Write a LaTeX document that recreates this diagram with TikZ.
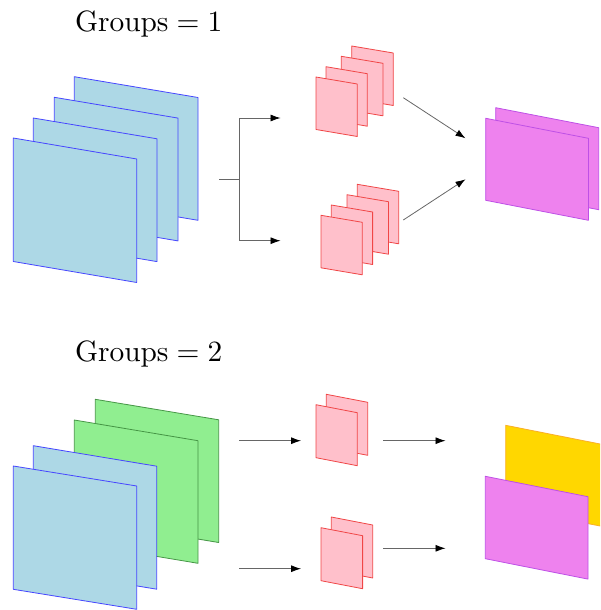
\documentclass[tikz,border=0pt]{standalone}
\usetikzlibrary{arrows.meta}

\definecolor{sheetblue}{RGB}{173,216,230}
\definecolor{sheetpink}{RGB}{255,192,203}
\definecolor{sheetviolet}{RGB}{238,130,238}
\definecolor{sheetgreen}{RGB}{144,238,144}
\definecolor{sheetgold}{RGB}{255,215,0}
\definecolor{edgeblue}{RGB}{70,70,255}
\definecolor{edgered}{RGB}{240,70,70}
\definecolor{edgeviolet}{RGB}{190,80,230}
\definecolor{edgegreen}{RGB}{70,150,70}
\definecolor{edgegold}{RGB}{250,175,40}

\tikzset{
  bluesheet/.style={fill=sheetblue, draw=edgeblue, line width=0.8pt, line join=round},
  pinksheet/.style={fill=sheetpink, draw=edgered, line width=0.8pt, line join=round},
  violetsheet/.style={fill=sheetviolet, draw=edgeviolet, line width=0.8pt, line join=round},
  greensheet/.style={fill=sheetgreen, draw=edgegreen, line width=0.8pt, line join=round},
  goldsheet/.style={fill=sheetgold, draw=edgegold, line width=0.8pt, line join=round},
  flow/.style={draw=black!60, line width=0.8pt,
    -{Latex[length=10pt,width=7pt,color=black]}},
  wire/.style={draw=black!60, line width=0.8pt},
  title/.style={anchor=base, scale=2.94, inner sep=0pt}
}

% \featuremap{x}{y}{width}{skew}{height}{style}: a sheared feature map,
% (x,y) is its upper left corner
\newcommand{\featuremap}[6]{%
  \draw[#6] (#1,#2) -- ++(#3,#4) -- ++(0,#5) -- ++(-#3,-#4) -- cycle;}

\begin{document}
\begin{tikzpicture}[x=1pt,y=-1pt]
\clip (0,0) rectangle (600,610);

% ---------------- Groups = 1 ----------------
\node[title] (t1) at (148.8,31.7) {$\mathrm{Groups}=1$};

% input channels
\featuremap{74.3}{76.7}{123.7}{20.8}{122.8}{bluesheet}
\featuremap{54.3}{97.3}{123.7}{20.8}{122.8}{bluesheet}
\featuremap{33.3}{118}{123.7}{20.8}{122.8}{bluesheet}
\featuremap{13.3}{138}{123.4}{21}{123.5}{bluesheet}

% split into two branches
\coordinate (s0) at (219,179.3);
\coordinate (s1) at (239,179.3);
\coordinate (s2) at (239,118);
\coordinate (s3) at (239,240.7);
\coordinate (e2) at (280.5,118);
\coordinate (e3) at (280.5,240.7);
\draw[wire] (s0) -- (s1);
\draw[wire] (s2) -- (s3);
\draw[flow] (s2) -- (e2);
\draw[flow] (s3) -- (e3);

% filters, upper branch
\featuremap{351.7}{46}{41.6}{7}{52.5}{pinksheet}
\featuremap{341.3}{56.3}{41.6}{7}{52.5}{pinksheet}
\featuremap{326}{66.7}{41.3}{7}{52.5}{pinksheet}
\featuremap{316}{77}{41.3}{7}{52.5}{pinksheet}

% filters, lower branch
\featuremap{357.3}{184.3}{41.4}{7}{52.5}{pinksheet}
\featuremap{347}{194.7}{41.4}{7}{52.5}{pinksheet}
\featuremap{331.3}{205}{41.3}{7}{52.5}{pinksheet}
\featuremap{321}{215.3}{41.3}{7}{52.5}{pinksheet}

% branches merge into the output
\coordinate (m1) at (403.3,97.7);
\coordinate (m2) at (403.3,220);
\coordinate (o1) at (465.5,138.3);
\coordinate (o2) at (465.5,179.3);
\draw[flow] (m1) -- (o1);
\draw[flow] (m2) -- (o2);

% output channels
\featuremap{495.7}{107.7}{103}{20}{82}{violetsheet}
\featuremap{485.7}{118.3}{102.7}{20}{82}{violetsheet}

% ---------------- Groups = 2 ----------------
\node[title] (t2) at (148.8,361.7) {$\mathrm{Groups}=2$};

% input channels: two groups of two
\featuremap{95.3}{399.3}{123.4}{20.5}{122.7}{greensheet}
\featuremap{74.3}{420}{123.7}{20.7}{122.6}{greensheet}
\featuremap{33.3}{445.7}{123.4}{20.5}{123}{bluesheet}
\featuremap{13.3}{466}{123.4}{20}{123.3}{bluesheet}

% group inputs to their filters
\coordinate (g1a) at (239,440.7);
\coordinate (g1b) at (301,440.7);
\coordinate (g2a) at (239,568.7);
\coordinate (g2b) at (301,568.7);
\draw[flow] (g1a) -- (g1b);
\draw[flow] (g2a) -- (g2b);

% filters per group
\featuremap{326.3}{394.3}{41.4}{8}{53}{pinksheet}
\featuremap{316}{404.7}{41.3}{8}{53}{pinksheet}
\featuremap{331.3}{517}{41.4}{8}{53}{pinksheet}
\featuremap{321}{527.7}{41.6}{8}{53}{pinksheet}

% filters to output channels
\coordinate (h1a) at (383,440.7);
\coordinate (h1b) at (445.5,440.7);
\coordinate (h2a) at (383,548.3);
\coordinate (h2b) at (445.5,548.3);
\draw[flow] (h1a) -- (h1b);
\draw[flow] (h2a) -- (h2b);

% output channels
\featuremap{505.7}{425.3}{103}{20.4}{82}{goldsheet}
\featuremap{485.3}{476.3}{102.7}{20.4}{82.4}{violetsheet}
\end{tikzpicture}
\end{document}
